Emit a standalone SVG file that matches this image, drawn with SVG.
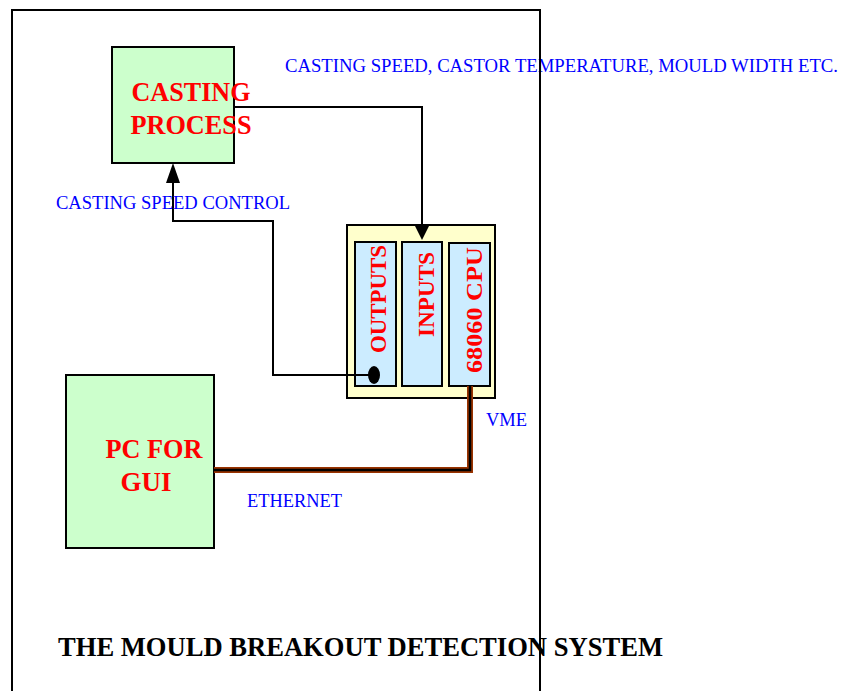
<svg xmlns="http://www.w3.org/2000/svg" width="841" height="691" viewBox="0 0 841 691">
<defs>
<style>
.box{stroke:#000;stroke-width:2}
.green{fill:#CCFFCC}
.slot{fill:#CCECFF;stroke:#000;stroke-width:2}
.red{font-family:"Liberation Serif",serif;font-weight:bold;fill:#FF0000;font-size:27px}
.rot{font-size:23px}
.blue{font-family:"Liberation Serif",serif;fill:#0000FF;font-size:18.5px}
.wire{fill:none;stroke:#000;stroke-width:2}
</style>
</defs>
<rect width="841" height="691" fill="#fff"/>
<g id="process">
<rect class="box green" x="112" y="47" width="122" height="116"/>
<text class="red" x="191" y="101" text-anchor="middle" textLength="119" lengthAdjust="spacingAndGlyphs">CASTING</text>
<text class="red" x="191" y="134" text-anchor="middle" textLength="121" lengthAdjust="spacingAndGlyphs">PROCESS</text>
</g>
<g id="vme">
<rect class="box" fill="#FFFFCC" x="347" y="225" width="148" height="173"/>
<g id="outputs"><rect class="slot" x="355" y="242" width="41" height="144"/>
<text class="red rot" transform="translate(386,299) rotate(-90)" text-anchor="middle" textLength="108" lengthAdjust="spacingAndGlyphs">OUTPUTS</text></g>
<g id="inputs"><rect class="slot" x="402" y="242" width="40" height="144"/>
<text class="red rot" transform="translate(434,294.5) rotate(-90)" text-anchor="middle" textLength="85" lengthAdjust="spacingAndGlyphs">INPUTS</text></g>
<g id="cpu"><rect class="slot" x="449" y="243" width="41" height="143"/>
<text class="red rot" transform="translate(482,310) rotate(-90)" text-anchor="middle" textLength="126" lengthAdjust="spacingAndGlyphs">68060 CPU</text></g>
</g>
<g id="pc">
<rect class="box green" x="66" y="375" width="148" height="173"/>
<text class="red" x="154" y="458" text-anchor="middle" textLength="97" lengthAdjust="spacingAndGlyphs">PC FOR</text>
<text class="red" x="146" y="491" text-anchor="middle">GUI</text>
</g>
<g id="connectors">
<polyline class="wire" points="234,107 422,107 422,228"/>
<polygon points="415,226 429,226 422,240" fill="#000"/>
<polyline class="wire" points="374,375 273,375 273,221 173,221 173,180"/>
<polygon points="166,183 180,183 173,163" fill="#000"/>
<ellipse cx="374" cy="375" rx="6" ry="9" fill="#000"/>
<polyline points="214,470 470,470 470,386" fill="none" stroke="#993300" stroke-width="6"/>
<polyline points="214,470 470,470 470,386" fill="none" stroke="#000" stroke-width="2.5"/>
</g>
<g id="labels">
<text class="blue" x="285" y="72" textLength="553" lengthAdjust="spacingAndGlyphs">CASTING SPEED, CASTOR TEMPERATURE, MOULD WIDTH ETC.</text>
<text class="blue" x="56" y="209" textLength="234" lengthAdjust="spacingAndGlyphs">CASTING SPEED CONTROL</text>
<text class="blue" x="486" y="426">VME</text>
<text class="blue" x="247" y="507" textLength="95" lengthAdjust="spacingAndGlyphs">ETHERNET</text>
<text x="58" y="656" font-family="Liberation Serif,serif" font-weight="bold" font-size="26.5" fill="#000" textLength="605" lengthAdjust="spacingAndGlyphs">THE MOULD BREAKOUT DETECTION SYSTEM</text>
</g>
<g id="frame">
<polyline points="12,700 12,10 540,10 540,700" fill="none" stroke="#000" stroke-width="2"/>
</g>
</svg>
